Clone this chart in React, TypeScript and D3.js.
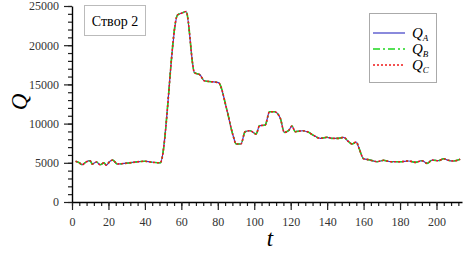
import { useEffect, useRef } from 'react';
import * as d3 from 'd3';

// time steps and discharge values
const tVals = [2, 4, 5.5, 7.7, 10, 11, 13.5, 15.4, 17.6, 18.7, 20.9, 22.3, 24.9, 30, 37, 40, 43, 48.4,
  57.9, 60.3, 62.6, 67.2, 70.3, 72.5, 80.4, 85, 88.3, 90.1, 92.7, 95, 97.8, 101, 102.9, 106, 108.4,
  111, 114.3, 116.5, 118.8, 120.7, 122.5, 126.7, 129.8, 132.2, 136.3, 140, 142.7, 146.3, 149, 151.8,
  153.7, 156, 157.3, 160, 162.8, 167.4, 171, 174.7, 180, 184.8, 188.5, 192, 194.9, 197.6, 201, 204,
  206, 209.5, 213];
const qA = [5200, 5000, 4750, 5100, 5270, 4850, 5100, 4750, 5000, 4700, 5200, 5350, 4850, 4950, 5150,
  5200, 5100, 5000, 23850, 24100, 24300, 16500, 16200, 15470, 15220, 11730, 8550, 7400, 7400, 8970,
  9090, 8670, 9730, 9820, 11520, 11520, 10680, 8880, 9090, 9690, 8970, 9090, 8890, 8550, 8120, 8250,
  8120, 8120, 8250, 7690, 7400, 7650, 6980, 5520, 5400, 5140, 5320, 5140, 5140, 5230, 5060, 5270,
  4930, 5350, 5270, 5520, 5350, 5230, 5450];
// the three curves coincide on the picture
const qB = qA.slice();
const qC = qA.slice();

const xTicks = [0, 20, 40, 60, 80, 100, 120, 140, 160, 180, 200];
const yTicks = [0, 5000, 10000, 15000, 20000, 25000];

const series = [
  { key: 'A', values: qA, color: '#3b3bc4', dash: null as string | null, width: 1.2 },
  { key: 'B', values: qB, color: '#1ed61e', dash: '7,3,2,3', width: 1.6 },
  { key: 'C', values: qC, color: '#f01818', dash: '2,2', width: 1.6 },
];

const W = 464;
const H = 254;
const serif = '"Liberation Serif", "Times New Roman", serif';

export default function App() {
  const ref = useRef<SVGSVGElement>(null);

  useEffect(() => {
    if (!ref.current) return;
    const svg = d3.select(ref.current);
    svg.selectAll('*').remove();

    const x = d3.scaleLinear().domain([0, 214]).range([72, 462]);
    const y = d3.scaleLinear().domain([0, 25000]).range([202, 6]);

    // minor ticks
    svg.append('g')
      .attr('transform', `translate(0,${y(0)})`)
      .call(d3.axisBottom(x).tickValues(d3.range(0, 214, 4)).tickSize(4).tickFormat(() => ''))
      .call(g => g.select('.domain').remove());
    svg.append('g')
      .attr('transform', `translate(${x(0)},0)`)
      .call(d3.axisLeft(y).tickValues(d3.range(0, 25001, 1000)).tickSize(4).tickFormat(() => ''))
      .call(g => g.select('.domain').remove());

    // major axes
    const xa = svg.append('g')
      .attr('transform', `translate(0,${y(0)})`)
      .call(d3.axisBottom(x).tickValues(xTicks).tickSize(8).tickSizeOuter(0).tickPadding(7).tickFormat(d3.format('d')));
    const ya = svg.append('g')
      .attr('transform', `translate(${x(0)},0)`)
      .call(d3.axisLeft(y).tickValues(yTicks).tickSize(8).tickSizeOuter(0).tickPadding(5).tickFormat(d3.format('d')));
    [xa, ya].forEach(g => {
      g.attr('font-family', serif).attr('font-size', 12);
      g.selectAll('text').attr('fill', '#333');
      g.select('.domain').attr('stroke-width', 1.4);
    });
    svg.selectAll('.tick line').attr('stroke', '#222').attr('stroke-width', 1.2);

    const line = d3.line<number>()
      .x((_, i) => x(tVals[i]))
      .y(d => y(d))
      .curve(d3.curveMonotoneX);

    series.forEach(s => {
      svg.append('path')
        .attr('d', line(s.values))
        .attr('fill', 'none')
        .attr('stroke', s.color)
        .attr('stroke-width', s.width)
        .attr('stroke-dasharray', s.dash);
    });

    // axis titles
    svg.append('text')
      .attr('transform', 'translate(27,102) rotate(-90)')
      .attr('text-anchor', 'middle')
      .attr('font-family', serif)
      .attr('font-style', 'italic')
      .attr('font-size', 23)
      .text('Q');
    svg.append('text')
      .attr('x', 270)
      .attr('y', 246)
      .attr('text-anchor', 'middle')
      .attr('font-family', serif)
      .attr('font-style', 'italic')
      .attr('font-size', 23)
      .text('t');

    // label box
    svg.append('rect')
      .attr('x', 84.5).attr('y', 5.5).attr('width', 61).attr('height', 30)
      .attr('fill', 'white').attr('stroke', '#bbb');
    svg.append('text')
      .attr('x', 115).attr('y', 26)
      .attr('text-anchor', 'middle')
      .attr('font-family', serif)
      .attr('font-size', 14)
      .text('Створ 2');

    // legend
    const lg = svg.append('g');
    lg.append('rect')
      .attr('x', 369.5).attr('y', 13.5).attr('width', 67).attr('height', 69)
      .attr('fill', 'white').attr('stroke', '#aaa');
    series.forEach((s, i) => {
      const ly = 33 + i * 16;
      lg.append('line')
        .attr('x1', 373).attr('x2', 405).attr('y1', ly).attr('y2', ly)
        .attr('stroke', s.color)
        .attr('stroke-width', s.width)
        .attr('stroke-dasharray', s.dash);
      const t = lg.append('text')
        .attr('x', 412).attr('y', ly + 5)
        .attr('font-family', serif)
        .attr('font-style', 'italic')
        .attr('font-size', 15);
      t.append('tspan').text('Q');
      t.append('tspan').attr('font-size', 9).attr('dy', 3).text(s.key);
    });
  }, []);

  return (
    <svg
      ref={ref}
      width={W}
      height={H}
      style={{ position: 'absolute', left: 0, top: 0, background: 'white' }}
    />
  );
}
